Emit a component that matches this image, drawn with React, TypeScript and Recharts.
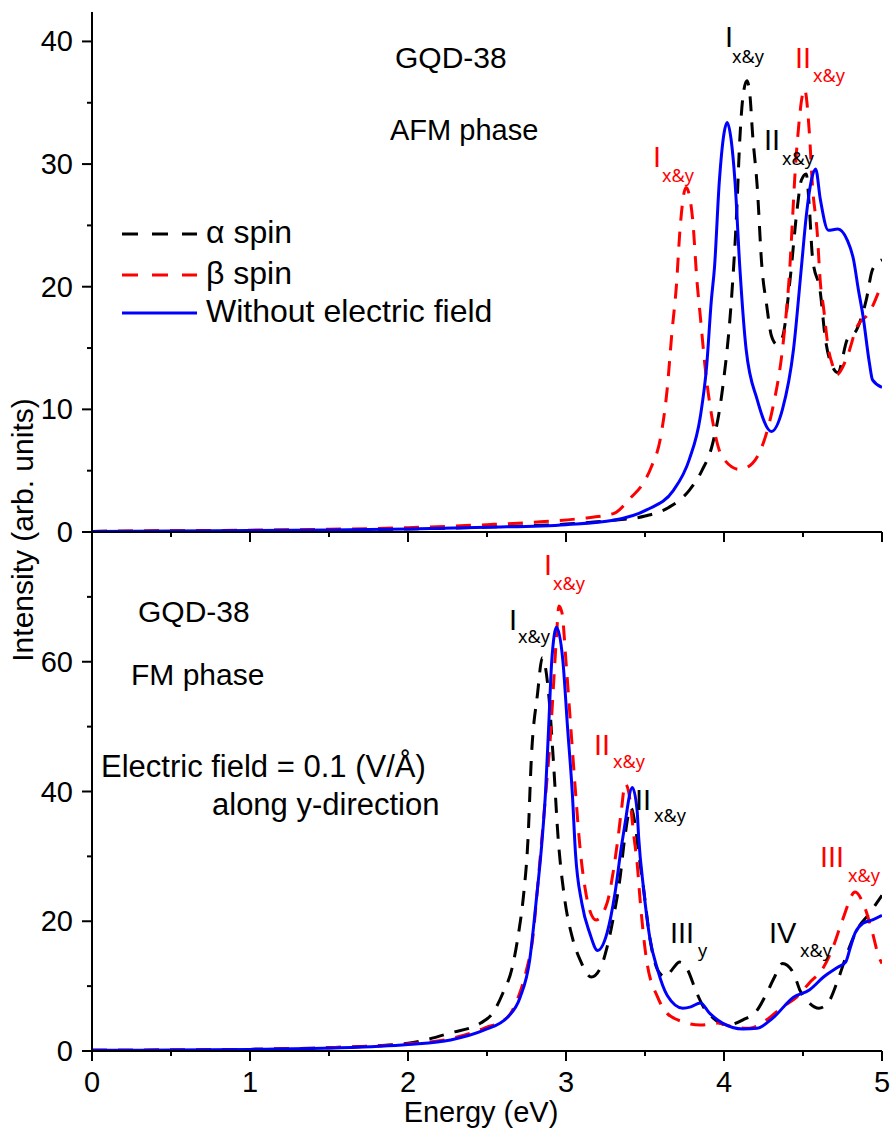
import React from "react";
import { Legend, Line, LineChart, XAxis, YAxis } from "recharts";

const FONT = '"Liberation Sans", Arial, Helvetica, sans-serif';
const SUB_FONT = '"Noto Sans", "DejaVu Sans", sans-serif';
const RED = "#ff0000";
const BLUE = "#0000ff";
const DASH = "15 11";

// shared energy ticks (eV)
const xTicks = [0, 0.5, 1, 1.5, 2, 2.5, 3, 3.5, 4, 4.5, 5];
const topYTicks = [0, 5, 10, 15, 20, 25, 30, 35, 40];
const topYLabels = [0, 10, 20, 30, 40];
const bottomYTicks = [0, 10, 20, 30, 40, 50, 60, 70];
const bottomYLabels = [0, 20, 40, 60];

// ---- top panel: AFM phase ----
const topAlphaE = [0, 0.5, 1, 1.5, 2, 2.5, 3, 3.3, 3.5, 3.65, 3.78, 3.86, 3.93, 3.99, 4.05, 4.08, 4.1, 4.12, 4.145, 4.165, 4.18, 4.21, 4.24, 4.27, 4.3, 4.335, 4.37, 4.42, 4.46, 4.49, 4.52, 4.54, 4.56, 4.61, 4.64, 4.69, 4.72, 4.78, 4.84, 4.9, 4.94, 5];
const topAlphaI = [0.05, 0.08, 0.12, 0.17, 0.25, 0.4, 0.65, 0.95, 1.3, 2.0, 3.4, 5.0, 7.3, 11.6, 19.5, 26, 32, 35.5, 36.8, 35.5, 32.6, 28.2, 21.6, 18.5, 16, 15.3, 15.9, 20.8, 26, 28.7, 29.2, 26.5, 22.4, 19.5, 15.9, 13.4, 13.0, 15.7, 16.5, 18.9, 21.4, 22.2];

const topBetaE = [0, 0.5, 1, 1.5, 2, 2.5, 2.8, 3.09, 3.3, 3.41, 3.49, 3.54, 3.6, 3.64, 3.67, 3.7, 3.72, 3.76, 3.8, 3.83, 3.85, 3.88, 3.93, 3.99, 4.1, 4.18, 4.25, 4.31, 4.37, 4.41, 4.46, 4.51, 4.54, 4.56, 4.59, 4.61, 4.63, 4.66, 4.69, 4.71, 4.78, 4.84, 4.92, 5];
const topBetaI = [0.05, 0.1, 0.15, 0.22, 0.35, 0.6, 0.8, 1.1, 1.5, 2.8, 4.0, 5.3, 7.8, 11.6, 16.2, 20.3, 24.4, 28.1, 25.7, 20.3, 17.6, 13.5, 8.9, 6.1, 5.1, 5.6, 7.3, 10.2, 14.9, 20.3, 31.2, 36.1, 32.6, 28.2, 24.4, 20.3, 18.3, 15, 13.5, 12.8, 14.3, 16.7, 17.9, 20.3];

const topPlainE = [0, 0.5, 1, 1.5, 2, 2.5, 3, 3.3, 3.51, 3.68, 3.78, 3.85, 3.89, 3.92, 3.94, 3.97, 4.0, 4.02, 4.045, 4.07, 4.1, 4.14, 4.21, 4.3, 4.37, 4.44, 4.49, 4.52, 4.555, 4.58, 4.61, 4.66, 4.72, 4.78, 4.82, 4.85, 4.88, 4.92, 4.94, 5];
const topPlainI = [0.05, 0.08, 0.12, 0.17, 0.25, 0.38, 0.6, 0.95, 1.8, 3.4, 5.9, 9.4, 13.5, 18.9, 21.6, 28.5, 32.5, 33.4, 32, 28.5, 21.6, 14.9, 10.8, 8.2, 10.0, 14.9, 21.6, 25.7, 28.8, 29.6, 27.1, 24.6, 24.7, 23.8, 22.2, 19.8, 17.6, 13.8, 12.4, 11.8];

// ---- bottom panel: FM phase, field along y ----
const botAlphaE = [0, 0.5, 1, 1.5, 2, 2.27, 2.46, 2.54, 2.6, 2.66, 2.7, 2.73, 2.76, 2.78, 2.82, 2.85, 2.89, 2.92, 2.95, 2.99, 3.04, 3.09, 3.16, 3.22, 3.26, 3.3, 3.34, 3.37, 3.41, 3.44, 3.46, 3.49, 3.53, 3.58, 3.63, 3.67, 3.72, 3.77, 3.82, 3.87, 3.93, 4.02, 4.12, 4.21, 4.27, 4.32, 4.37, 4.44, 4.48, 4.54, 4.6, 4.66, 4.72, 4.78, 4.84, 4.92, 5];
const botAlphaI = [0.1, 0.15, 0.25, 0.5, 1.2, 2.8, 4.3, 6.0, 8.9, 12.9, 18.2, 23.7, 32.9, 44.8, 55.1, 60.6, 55.1, 44.8, 32.9, 23.7, 17.5, 14.0, 11.4, 12.9, 16.0, 20.6, 26.3, 32.5, 37.5, 34.5, 30.5, 25.2, 17.5, 12.5, 11.4, 12.5, 13.7, 12.5, 9.4, 6.8, 5.1, 4.0, 4.8, 6.3, 8.9, 11.4, 13.5, 12.0, 9.4, 7.4, 6.6, 7.5, 10.9, 15.1, 18.6, 21.2, 24];

const botBetaE = [0, 0.5, 1, 1.5, 2, 2.27, 2.48, 2.63, 2.69, 2.75, 2.79, 2.82, 2.85, 2.88, 2.9, 2.92, 2.94, 2.955, 2.975, 3.0, 3.03, 3.06, 3.09, 3.12, 3.15, 3.19, 3.26, 3.3, 3.33, 3.35, 3.375, 3.4, 3.43, 3.45, 3.47, 3.51, 3.58, 3.64, 3.74, 3.85, 3.96, 4.06, 4.16, 4.27, 4.37, 4.46, 4.54, 4.63, 4.69, 4.75, 4.83, 4.88, 4.94, 4.98, 5];
const botBetaI = [0.1, 0.15, 0.25, 0.5, 1.1, 1.9, 3.5, 5.2, 7.8, 12.5, 17.5, 25.2, 33.5, 42, 48, 56, 64, 68.6, 67.5, 60, 50, 40, 31, 25.2, 21.7, 20.2, 22.8, 27.8, 33, 37, 41.2, 39.5, 33, 29, 23, 14.0, 8.3, 5.8, 4.5, 4.0, 4.3, 3.7, 3.5, 4.8, 6.8, 8.3, 10.5, 12.9, 16.0, 20.2, 24.5, 22.8, 18.2, 14.5, 13.5];

const botPlainE = [0, 0.5, 1, 1.5, 2, 2.27, 2.48, 2.63, 2.71, 2.77, 2.81, 2.85, 2.87, 2.89, 2.91, 2.94, 2.98, 3.01, 3.04, 3.06, 3.1, 3.15, 3.2, 3.26, 3.31, 3.35, 3.37, 3.42, 3.45, 3.46, 3.49, 3.53, 3.58, 3.64, 3.74, 3.79, 3.85, 3.91, 3.99, 4.12, 4.21, 4.31, 4.44, 4.54, 4.63, 4.72, 4.77, 4.8, 4.83, 4.88, 4.94, 5];
const botPlainI = [0.1, 0.15, 0.25, 0.45, 1.0, 1.7, 3.2, 5.2, 8.3, 14.0, 22.8, 32.9, 39.7, 49.8, 60.2, 65.3, 60.2, 49.8, 39.7, 30.5, 22.8, 18.2, 15.5, 18.2, 24.3, 31.4, 34.5, 40.6, 37.1, 32.9, 25.2, 17.5, 12.5, 8.6, 6.6, 6.8, 7.4, 5.8, 4.3, 3.4, 3.5, 5.1, 8.3, 9.4, 11.4, 12.9, 13.7, 16, 18.2, 19.7, 20.2, 20.9];

const zip = (e: number[], v: number[]) => e.map((x, i) => ({ e: x, v: v[i] }));

const axisLine = { stroke: "#000", strokeWidth: 2 };

function xTick(showLabel: boolean) {
  return (props: any) => {
    const { x, y, payload } = props;
    const major = Number.isInteger(payload.value);
    return (
      <g>
        <line x1={x} x2={x} y1={y} y2={y + (major ? 10 : 5)} stroke="#000" strokeWidth={2} />
        {showLabel && major && (
          <text x={x} y={y + 41} textAnchor="middle" fontSize={29} fontFamily={FONT} fill="#000">
            {payload.value}
          </text>
        )}
      </g>
    );
  };
}

function yTick(labels: number[]) {
  return (props: any) => {
    const { x, y, payload } = props;
    const major = labels.includes(payload.value);
    return (
      <g>
        <line x1={x - (major ? 10 : 5)} x2={x} y1={y} y2={y} stroke="#000" strokeWidth={2} />
        {major && (
          <text x={x - 19} y={y + 10} textAnchor="end" fontSize={29} fontFamily={FONT} fill="#000">
            {payload.value}
          </text>
        )}
      </g>
    );
  };
}

function LegendBox() {
  const rows = [
    { name: "\u03b1 spin", color: "#000", dash: "16 14", y: 24 },
    { name: "\u03b2 spin", color: RED, dash: "16 14", y: 65 },
    { name: "Without electric field", color: BLUE, dash: undefined, y: 103 },
  ];
  return (
    <svg width={420} height={122}>
      {rows.map((r) => (
        <g key={r.name}>
          <line x1={12} x2={87} y1={r.y} y2={r.y} stroke={r.color} strokeWidth={3} strokeDasharray={r.dash} />
          <text x={96} y={r.y + 9} fontSize={32} fontFamily={FONT} fill="#000">
            {r.name}
          </text>
        </g>
      ))}
    </svg>
  );
}

interface PanelProps {
  top: number;
  height: number;
  xHeight: number;
  domain: [number, number];
  yTicks: number[];
  yLabels: number[];
  alpha: { e: number; v: number }[];
  beta: { e: number; v: number }[];
  plain: { e: number; v: number }[];
  showXLabels: boolean;
  legend?: boolean;
}

function Panel(p: PanelProps) {
  return (
    <div style={{ position: "absolute", left: 0, top: p.top }}>
      <LineChart width={891} height={p.height} margin={{ top: 12, right: 9, bottom: 0, left: 0 }}>
        <XAxis
          xAxisId="b"
          type="number"
          dataKey="e"
          domain={[0, 5]}
          ticks={xTicks}
          interval={0}
          tickSize={0}
          tickMargin={0}
          tick={xTick(p.showXLabels)}
          height={p.xHeight}
          axisLine={axisLine}
          allowDataOverflow
        />
        <XAxis xAxisId="t" orientation="top" type="number" domain={[0, 5]} height={0} tick={false} tickLine={false} axisLine={axisLine} />
        <YAxis
          yAxisId="l"
          type="number"
          domain={p.domain}
          ticks={p.yTicks}
          interval={0}
          width={92}
          tickSize={0}
          tickMargin={0}
          tick={yTick(p.yLabels)}
          axisLine={axisLine}
          allowDataOverflow
        />
        <YAxis yAxisId="r" orientation="right" type="number" domain={p.domain} width={0} tick={false} tickLine={false} axisLine={axisLine} />
        {p.legend && (
          <Legend
            layout="horizontal"
            verticalAlign="middle"
            align="center"
            wrapperStyle={{ left: 110, top: 210, width: 420 }}
            content={() => <LegendBox />}
          />
        )}
        <Line xAxisId="b" yAxisId="l" data={p.alpha} dataKey="v" name="alpha" type="monotone" stroke="#000" strokeWidth={3} strokeDasharray={DASH} dot={false} isAnimationActive={false} />
        <Line xAxisId="b" yAxisId="l" data={p.beta} dataKey="v" name="beta" type="monotone" stroke={RED} strokeWidth={3} strokeDasharray={DASH} dot={false} isAnimationActive={false} />
        <Line xAxisId="b" yAxisId="l" data={p.plain} dataKey="v" name="plain" type="monotone" stroke={BLUE} strokeWidth={3} dot={false} isAnimationActive={false} />
      </LineChart>
    </div>
  );
}

// peak label: numeral + subscript
function Peak({ x, y, n, sub, sx, sy, color }: { x: number; y: number; n: string; sub: string; sx: number; sy: number; color: string }) {
  return (
    <g fill={color}>
      <text x={x} y={y} fontSize={29} fontFamily={FONT}>{n}</text>
      <text x={sx} y={sy} fontSize={18} fontFamily={SUB_FONT}>{sub}</text>
    </g>
  );
}

function Overlay() {
  const t = { fontFamily: FONT, fill: "#000" };
  return (
    <svg width={891} height={1132} style={{ position: "absolute", left: 0, top: 0, pointerEvents: "none" }}>
      <text x={395} y={68} fontSize={30} {...t}>GQD-38</text>
      <text x={390} y={140} fontSize={29} {...t}>AFM phase</text>
      <text x={138} y={622} fontSize={30} {...t}>GQD-38</text>
      <text x={131} y={685} fontSize={30} {...t}>FM phase</text>
      <text x={101} y={777} fontSize={31} {...t}>Electric field = 0.1 (V/Å)</text>
      <text x={212} y={815} fontSize={31} {...t}>along y-direction</text>

      <Peak x={725} y={47} n="I" sub="x&y" sx={732} sy={63} color="#000" />
      <Peak x={795} y={68} n="II" sub="x&y" sx={813} sy={82} color={RED} />
      <Peak x={764} y={150} n="II" sub="x&y" sx={782} sy={165} color="#000" />
      <Peak x={653} y={167} n="I" sub="x&y" sx={662} sy={182} color={RED} />

      <Peak x={544} y={575} n="I" sub="x&y" sx={553} sy={590} color={RED} />
      <Peak x={509} y={630} n="I" sub="x&y" sx={518} sy={643} color="#000" />
      <Peak x={594} y={755} n="II" sub="x&y" sx={613} sy={768} color={RED} />
      <Peak x={635} y={810} n="II" sub="x&y" sx={654} sy={822} color="#000" />
      <Peak x={670} y={943} n="III" sub="y" sx={698} sy={957} color="#000" />
      <Peak x={769} y={943} n="IV" sub="x&y" sx={800} sy={957} color="#000" />
      <Peak x={820} y={867} n="III" sub="x&y" sx={848} sy={882} color={RED} />

      <text x={481} y={1122} fontSize={29} textAnchor="middle" {...t}>Energy (eV)</text>
      <text transform="translate(33, 530) rotate(-90)" fontSize={30} textAnchor="middle" {...t}>
        Intensity (arb. units)
      </text>
    </svg>
  );
}

export default function App() {
  return (
    <div style={{ position: "absolute", left: 0, top: 0, width: 891, height: 1132, background: "#fff", fontFamily: FONT }}>
      <Panel
        top={0}
        height={562}
        xHeight={30}
        domain={[0, 42.4]}
        yTicks={topYTicks}
        yLabels={topYLabels}
        alpha={zip(topAlphaE, topAlphaI)}
        beta={zip(topBetaE, topBetaI)}
        plain={zip(topPlainE, topPlainI)}
        showXLabels={false}
        legend
      />
      <Panel
        top={520}
        height={612}
        xHeight={81}
        domain={[0, 80]}
        yTicks={bottomYTicks}
        yLabels={bottomYLabels}
        alpha={zip(botAlphaE, botAlphaI)}
        beta={zip(botBetaE, botBetaI)}
        plain={zip(botPlainE, botPlainI)}
        showXLabels
      />
      <Overlay />
    </div>
  );
}
